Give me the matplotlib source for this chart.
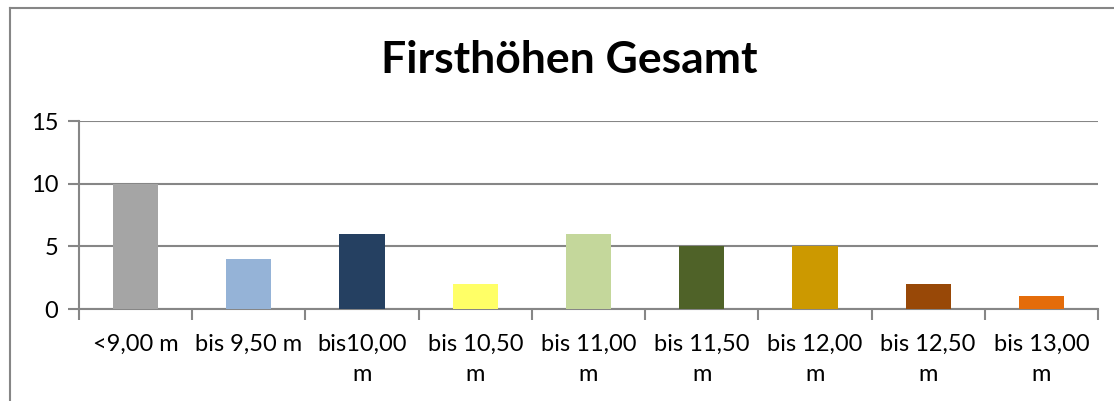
import matplotlib.pyplot as plt
from matplotlib.lines import Line2D

categories = ["<9,00 m", "bis 9,50 m", "bis10,00\nm", "bis 10,50\nm", "bis 11,00\nm",
              "bis 11,50\nm", "bis 12,00\nm", "bis 12,50\nm", "bis 13,00\nm"]
counts = [10, 4, 6, 2, 6, 5, 5, 2, 1]
colors = ["#A5A5A5", "#95B3D7", "#254061", "#FFFF66", "#C4D79B",
          "#4F6228", "#CC9900", "#984807", "#E46C0A"]
yticks = [0, 5, 10, 15]

W, H = 1114, 401
fig = plt.figure(figsize=(W / 100, H / 100), dpi=100)
plt.rcParams["font.family"] = ["Lato", "DejaVu Sans"]

# chart frame (left and top edges only)
grey = "#868686"
fig.add_artist(Line2D([10 / W, 10 / W], [0, 1 - 8 / H], color=grey, lw=1.5))
fig.add_artist(Line2D([10 / W, 1], [1 - 8 / H, 1 - 8 / H], color=grey, lw=1.5))

x0, x1, y0, y1 = 79, 1098, 309, 121
ax = fig.add_axes([x0 / W, 1 - y0 / H, (x1 - x0) / W, (y0 - y1) / H])

pos = list(range(len(categories)))
ax.bar(pos, counts, width=0.4, color=colors, zorder=3)

ax.set_xlim(-0.5, len(categories) - 0.5)
ax.set_ylim(0, 15)
ax.set_yticks(yticks)
ax.yaxis.grid(True, color=grey, lw=1.5, zorder=0)
ax.tick_params(axis="y", length=8, width=1.5, color=grey, labelsize=17, pad=7)

# category boundaries carry the tick marks, labels sit at centres
ax.set_xticks([p - 0.5 for p in pos] + [len(categories) - 0.5])
ax.set_xticklabels([])
ax.tick_params(axis="x", length=8, width=1.5, color=grey)
for p, lab in zip(pos, categories):
    ax.text(p, -2.0, lab, ha="center", va="top", fontsize=17,
            linespacing=1.55, transform=ax.transData)

for s in ["top", "right"]:
    ax.spines[s].set_visible(False)
for s in ["left", "bottom"]:
    ax.spines[s].set_color(grey)
    ax.spines[s].set_linewidth(1.5)

fig.text(569 / W, 1 - 73 / H, "Firsthöhen Gesamt", ha="center", va="baseline",
         fontsize=32, fontweight="bold")

fig.savefig("out.png", dpi=100)
